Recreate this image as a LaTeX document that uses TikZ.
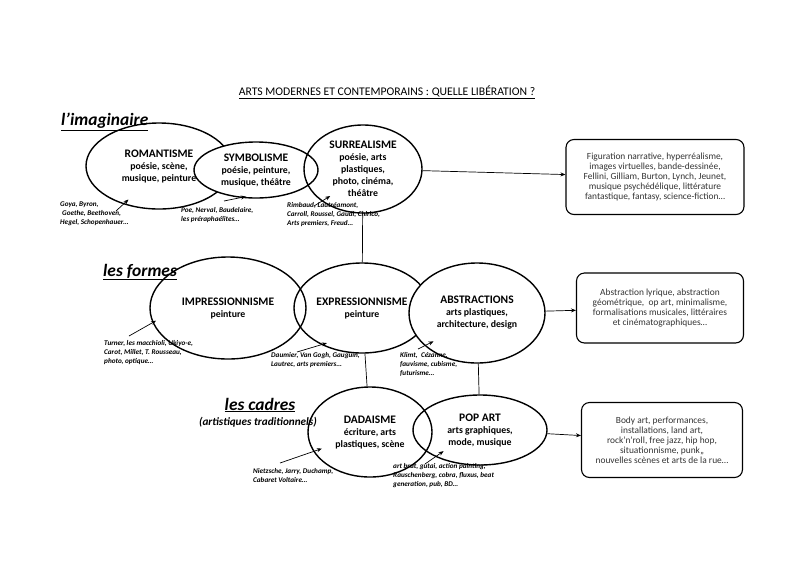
\documentclass[tikz,border=0pt]{standalone}
\usepackage{fontspec}
\setmainfont{Carlito}
\usepackage{tikz}
\usetikzlibrary{arrows.meta,shapes}

\newcommand{\soustitre}[1]{{\fontsize{9.8}{11}\selectfont #1}}

\begin{document}
\begin{tikzpicture}[x=1pt,y=-1pt,>=stealth,
  courant/.style={ellipse,draw,line width=1.4pt,inner sep=0pt,align=center,
    font=\bfseries\fontsize{11.5}{12}\selectfont},
  suite/.style={draw,rounded corners=8pt,line width=1.1pt,inner sep=0pt,align=center,
    text=black!80,font=\fontsize{9.4}{10}\selectfont},
  rubrique/.style={inner sep=1pt,font=\bfseries\itshape\fontsize{17.4}{19}\selectfont},
  note/.style={anchor=north west,inner sep=0pt,align=left,
    font=\bfseries\itshape\fontsize{7.2}{9}\selectfont},
  lien/.style={line width=0.7pt},
  renvoi/.style={line width=0.7pt,-{Stealth[length=5pt,width=4pt]}},
  influence/.style={line width=0.7pt,-{Stealth[length=5pt,width=4pt]}}]
\useasboundingbox (0,0) rectangle (800,582);

\node[font=\fontsize{11.7}{13}\selectfont] (titre) at (387,92)
  {\underline{ARTS MODERNES ET CONTEMPORAINS : QUELLE LIBÉRATION ?}};

\node[rubrique,anchor=west] (imag) at (60,122) {\underline{l’imaginaire}};
\node[rubrique,anchor=west] (formes) at (102,272) {\underline{les formes}};
\node[rubrique] (cadres) at (260,405) {\underline{les cadres}};
\node[font=\bfseries\itshape\fontsize{11.2}{13}\selectfont] (tradi) at (258,422) {(artistiques traditionnels)};

\node[courant,minimum width=146pt,minimum height=86pt] (roman) at (159,166)
  {ROMANTISME\\\soustitre{poésie, scène,}\\\soustitre{musique, peinture}};
\node[courant,fill=white,minimum width=124pt,minimum height=56pt] (symb) at (256,170)
  {SYMBOLISME\\\soustitre{poésie, peinture,}\\\soustitre{musique, théâtre}};
\node[courant,minimum width=118pt,minimum height=88pt] (surr) at (363,169)
  {SURREALISME\\\soustitre{poésie, arts}\\\soustitre{plastiques,}\\\soustitre{photo, cinéma,}\\\soustitre{théâtre}};

\node[courant,minimum width=156pt,minimum height=102pt] (impr) at (228,308)
  {IMPRESSIONNISME\\\soustitre{peinture}};
\node[courant,minimum width=136pt,minimum height=90pt] (expr) at (362,308)
  {EXPRESSIONNISME\\\soustitre{peinture}};
\node[courant,fill=white,minimum width=136pt,minimum height=100pt] (abstr) at (477,313)
  {ABSTRACTIONS\\\soustitre{arts plastiques,}\\\soustitre{architecture, design}};

\node[courant,minimum width=124pt,minimum height=90pt] (dada) at (370,432)
  {DADAISME\\\soustitre{écriture, arts}\\\soustitre{plastiques, scène}};
\node[courant,minimum width=134pt,minimum height=70pt] (pop) at (480,430)
  {POP ART\\\soustitre{arts graphiques,}\\\soustitre{mode, musique}};

\node[suite,minimum width=178pt,minimum height=75pt] (figur) at (655,177)
  {Figuration narrative, hyperréalisme,\\images virtuelles, bande-dessinée,\\Fellini, Gilliam, Burton, Lynch, Jeunet,\\musique psychédélique, littérature\\fantastique, fantasy, science-fiction…};
\node[suite,minimum width=167pt,minimum height=70pt] (lyriq) at (660,308)
  {Abstraction lyrique, abstraction\\géométrique,\ \ op art, minimalisme,\\formalisations musicales, littéraires\\et cinématographiques…};
\node[suite,minimum width=161pt,minimum height=75pt] (body) at (662,440)
  {Body art, performances,\\installations, land art,\\rock’n’roll, free jazz, hip hop,\\situationnisme, punk,,\\nouvelles scènes et arts de la rue…};

\draw[renvoi] (surr) -- (figur);
\draw[renvoi] (abstr) -- (lyriq);
\draw[renvoi] (pop) -- (body);
\draw[lien] (surr) -- (expr);
\draw[lien] (expr) -- (dada);
\draw[lien] (abstr) -- (pop);

\node[note] (goya) at (60,202) {Goya, Byron,\\\hspace{2pt}Goethe, Beethoven,\\Hegel, Schopenhauer…};
\node[note] (poe) at (181,207) {Poe, Nerval, Baudelaire,\\les préraphaélites…};
\node[note] (rimb) at (287,202) {Rimbaud, Lautréamont,\\Carroll, Roussel, Gaudi, Chirico,\\Arts premiers, Freud…};
\node[note] (turner) at (104,340) {Turner, les macchioli, Ukiyo-e,\\Carot, Millet, T. Rousseau,\\photo, optique…};
\node[note] (daumier) at (271,352) {Daumier, Van Gogh, Gauguin,\\Lautrec, arts premiers…};
\node[note] (klimt) at (400,352) {Klimt,\ \ Cézanne,\\fauvisme, cubisme,\\futurisme…};
\node[note] (nietz) at (253,468) {Nietzsche, Jarry, Duchamp,\\Cabaret Voltaire…};
\node[note] (brut) at (393,463) {art brut, gutai, action painting,\\Rauschenberg, cobra, fluxus, beat\\generation, pub, BD…};

\coordinate (goyaq) at (116,211);
\coordinate (poeq) at (224,201);
\coordinate (rimbq) at (314,206);
\coordinate (turnerq) at (129,336);
\coordinate (daumierq) at (297,352);
\coordinate (klimtq) at (418,349);
\coordinate (nietzq) at (280,463);
\coordinate (brutq) at (425,464);
\draw[influence,shorten >=-7pt] (goyaq) -- (roman.227);
\draw[influence,shorten >=-6pt] (poeq) -- (symb.240);
\draw[influence,shorten >=-10pt] (rimbq) -- (surr.218);
\draw[influence,shorten >=-4pt] (turnerq) -- (impr.191);
\draw[influence,shorten >=-6pt] (daumierq) -- (expr.222);
\draw[influence,shorten >=-10pt] (klimtq) -- (abstr.212);
\draw[influence,shorten >=-9pt] (nietzq) -- (dada.199);
\draw[influence,shorten >=-10pt] (brutq) -- (pop.211);
\end{tikzpicture}
\end{document}
